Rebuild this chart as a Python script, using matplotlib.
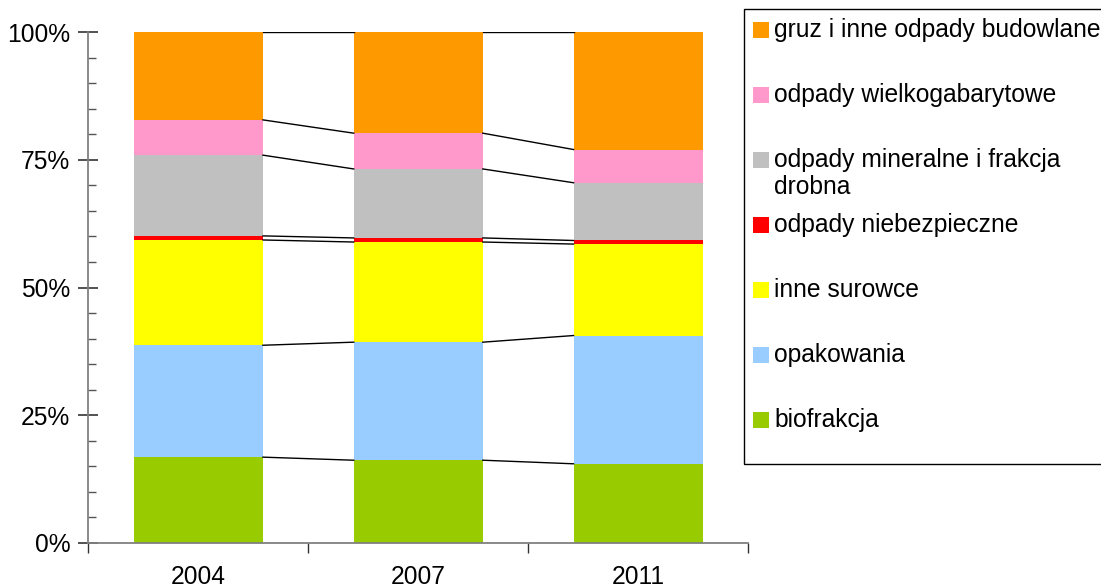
import numpy as np
import matplotlib
matplotlib.use("Agg")
import matplotlib.pyplot as plt
from matplotlib.patches import Rectangle
from matplotlib.ticker import MultipleLocator, FixedLocator, FuncFormatter

plt.rcParams['font.family'] = ['Liberation Sans', 'DejaVu Sans']

# data (percent shares)
years = ['2004', '2007', '2011']
series = ['biofrakcja', 'opakowania', 'inne surowce', 'odpady niebezpieczne',
          'odpady mineralne i frakcja\ndrobna', 'odpady wielkogabarytowe',
          'gruz i inne odpady budowlane']
biofrakcja = [16.8, 16.2, 15.5]
opakowania = [21.9, 23.1, 25.1]
inne_surowce = [20.6, 19.6, 17.9]
niebezpieczne = [0.8, 0.8, 0.7]
mineralne = [15.8, 13.5, 11.3]
wielkogabarytowe = [6.9, 7.0, 6.5]
gruz = [17.2, 19.8, 23.0]
colors = ['#99CC00', '#99CCFF', '#FFFF00', '#FF0000', '#C0C0C0', '#FF99CC', '#FF9900']

vals = np.array([biofrakcja, opakowania, inne_surowce, niebezpieczne,
                 mineralne, wielkogabarytowe, gruz])
vals = vals / vals.sum(0) * 100

W, H = 1101, 587
fig = plt.figure(figsize=(W / 100, H / 100), dpi=100)
ax = fig.add_axes([88.5 / W, 1 - 543 / H, (748 - 88.5) / W, (543 - 32) / H])

x = np.arange(len(years))
bw = 0.587
bottom = np.zeros(len(years))
for k in range(len(series)):
    ax.bar(x, vals[k], bw, bottom=bottom, color=colors[k], linewidth=0, zorder=2)
    bottom = bottom + vals[k]

# series lines between bars
cum = np.cumsum(vals, axis=0)
for k in range(len(series)):
    for i in range(len(years) - 1):
        ax.plot([x[i] + bw / 2, x[i + 1] - bw / 2], [cum[k, i], cum[k, i + 1]],
                color='black', lw=1, zorder=3)

ax.set_xlim(-0.5, len(years) - 0.5)
ax.set_ylim(0, 100)

for s in ['top', 'right']:
    ax.spines[s].set_visible(False)
for s in ['left', 'bottom']:
    ax.spines[s].set_color('#808080')
    ax.spines[s].set_linewidth(1.3)

ax.yaxis.set_major_locator(MultipleLocator(25))
ax.yaxis.set_minor_locator(MultipleLocator(5))
ax.yaxis.set_major_formatter(FuncFormatter(lambda v, p: '%d%%' % v))
ax.tick_params(axis='y', which='major', direction='inout', length=14, width=1.2,
               color='#333333', labelsize=17.7, pad=6)
ax.tick_params(axis='y', which='minor', direction='in', length=6, width=1, color='#555555')

ax.set_xticks(x)
ax.set_xticklabels(years)
ax.xaxis.set_minor_locator(FixedLocator(np.arange(-0.5, len(years), 1.0)))
ax.tick_params(axis='x', which='major', length=0, labelsize=17.7, pad=16)
ax.tick_params(axis='x', which='minor', direction='out', length=7, width=1, color='#333333')

# legend drawn like the Excel one
fig.patches.append(Rectangle((744 / W, 1 - 464 / H), 400 / W, 455 / H,
                             transform=fig.transFigure, fill=False,
                             edgecolor='black', lw=1))
ys = [30 + 65 * j for j in range(len(series))]
for j, k in enumerate(range(len(series) - 1, -1, -1)):
    y = ys[j]
    fig.patches.append(Rectangle((753 / W, 1 - (y + 8) / H), 16 / W, 16 / H,
                                 transform=fig.transFigure, color=colors[k], lw=0))
    for n, line in enumerate(series[k].split('\n')):
        fig.text(774 / W, 1 - (y + 27 * n) / H, line, fontsize=17.7, va='center', ha='left')

fig.savefig('out.png', dpi=100)
